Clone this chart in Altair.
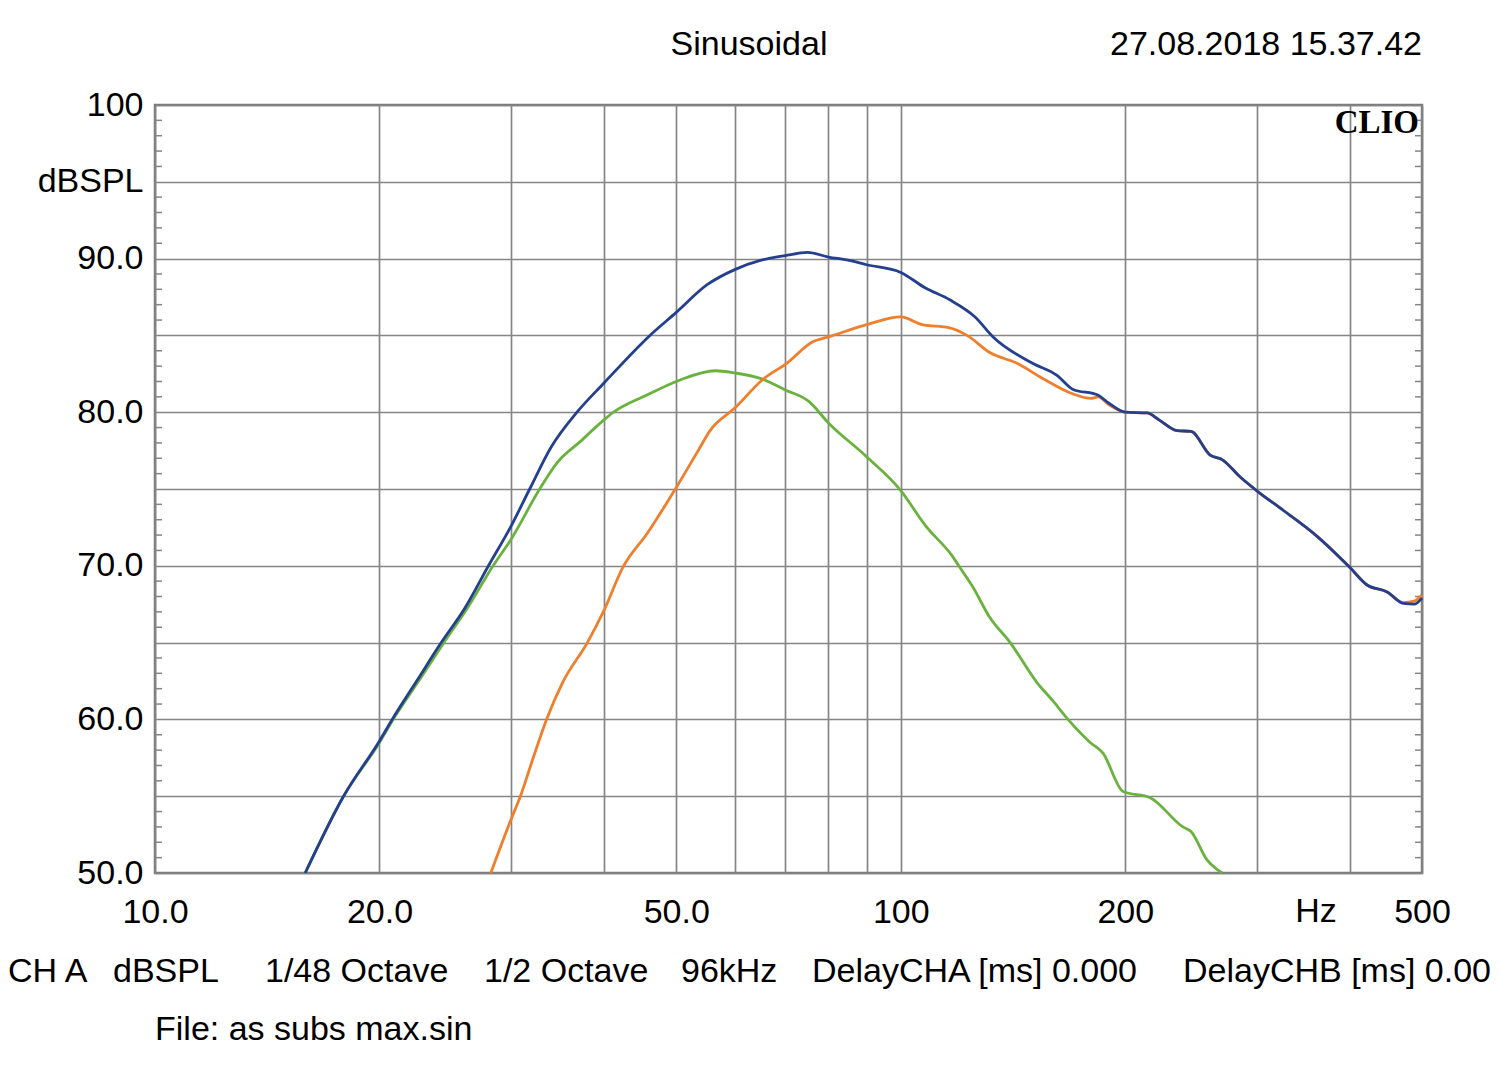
import altair as alt
import pandas as pd

# ---------------- data ----------------
blue_freq = [15.9, 17.9, 20.0, 20.8, 22.5, 24.2, 26.0, 28.0, 30.0, 31.8, 34.0, 36.8, 40.0,
             46.1, 50.0, 55.0, 60.0, 65.0, 70.0, 75.0, 80.0, 85.0, 90.0, 100.0, 107.8, 116.5,
             125.8, 133.0, 150.0, 162.0, 170.0, 184.0, 190.0, 200.0, 214.0, 222.0, 234.7,
             245.0, 260.0, 270.0, 285.0, 300.0, 326.0, 362.0, 400.0, 422.0, 449.0, 472.0,
             488.0, 500.0]
blue_spl = [50.0, 55.0, 58.6, 60.0, 62.6, 65.0, 67.2, 70.0, 72.55, 75.0, 77.75, 80.0, 81.9,
            85.0, 86.5, 88.3, 89.3, 89.9, 90.2, 90.4, 90.1, 89.9, 89.6, 89.1, 88.1, 87.3,
            86.2, 84.9, 83.2, 82.4, 81.5, 81.1, 80.6, 80.0, 79.95, 79.5, 78.8,
            78.75, 77.2, 76.9, 75.8, 74.9, 73.6, 71.9, 69.9, 68.75, 68.3, 67.55,
            67.5, 67.9]

orange_freq = [28.2, 30.0, 30.9, 32.2, 33.5, 35.2, 38.0, 40.0, 42.4, 45.7, 50.0, 53.5, 55.5,
               60.0, 65.2, 70.4, 76.3, 80.0, 90.0, 100.0, 106.8, 116.0, 122.7, 132.0, 143.0,
               155.0, 170.0, 180.0, 184.0, 190.0, 200.0, 214.0, 222.0, 234.7, 245.0, 260.0,
               270.0, 285.0, 300.0, 326.0, 362.0, 400.0, 422.0, 449.0, 472.0, 488.0, 500.0]
orange_spl = [50.0, 53.45, 55.0, 57.6, 60.0, 62.4, 65.0, 67.1, 69.9, 72.1, 75.1, 77.5, 78.8,
              80.3, 82.1, 83.2, 84.6, 84.9, 85.7, 86.2, 85.7, 85.5, 85.0, 83.85, 83.2,
              82.2, 81.2, 80.9, 81.0, 80.5, 80.0, 79.95, 79.5, 78.8, 78.75, 77.2,
              76.9, 75.8, 74.9, 73.6, 71.9, 69.9, 68.75, 68.3, 67.6, 67.7, 68.1]

green_freq = [15.9, 17.9, 20.0, 20.8, 22.5, 24.4, 26.2, 28.4, 30.0, 32.8, 34.6, 37.2, 40.0,
              41.2, 45.6, 50.6, 56.4, 60.0, 64.8, 70.0, 75.3, 80.0, 90.0, 100.0, 108.0, 117.4,
              120.0, 125.0, 131.4, 140.2, 152.3, 160.0, 167.6, 179.5, 186.7, 198.7, 216.0,
              239.0, 245.0, 257.5, 269.7]
green_spl = [50.0, 55.0, 58.5, 59.9, 62.4, 65.0, 67.2, 70.0, 71.7, 75.0, 76.7, 78.1, 79.5,
             80.0, 81.1, 82.1, 82.7, 82.55, 82.2, 81.45, 80.7, 79.3, 77.1, 74.9, 72.6, 70.6,
             69.9, 68.6, 66.7, 65.0, 62.4, 61.2, 60.0, 58.5, 57.8, 55.3, 54.9,
             53.0, 52.7, 50.85, 50.0]

grid_freqs = [10, 20, 30, 40, 50, 60, 70, 80, 90, 100, 200, 300, 400, 500]
x_label_values = [10, 20, 50, 100, 200, 500]
x_label_texts = ["10.0", "20.0", "50.0", "100", "200", "500"]
grid_db = [50, 55, 60, 65, 70, 75, 80, 85, 90, 95, 100]
y_label_values = [100, 95, 90, 80, 70, 60, 50]
y_label_texts = ["100", "dBSPL", "90.0", "80.0", "70.0", "60.0", "50.0"]
minor_db = [v for v in range(51, 100) if v % 5 != 0]

title_text = "Sinusoidal"
date_text = "27.08.2018 15.37.42"
brand_text = "CLIO"
unit_text = "Hz"
footer_items = ["CH A", "dBSPL", "1/48 Octave", "1/2 Octave", "96kHz",
                "DelayCHA [ms] 0.000", "DelayCHB [ms] 0.00"]
file_text = "File: as subs max.sin"

# ---------------- layout ----------------
W, H = 1267, 768
FONT = "Liberation Sans"
FS = 34
GRID = "#858585"


def make_expr(values, texts):
    parts = [f"datum.value == {v} ? '{t}'" for v, t in zip(values, texts)]
    return " : ".join(parts) + " : ''"


xscale = alt.Scale(type="log", domain=[10, 500], nice=False, zero=False)
yscale = alt.Scale(domain=[50, 100], nice=False, zero=False)

xaxis = alt.Axis(values=grid_freqs, labelExpr=make_expr(x_label_values, x_label_texts),
                 title=None, ticks=False, domain=False, grid=True, gridColor=GRID,
                 gridWidth=1.7, gridOpacity=1, labelFont=FONT, labelFontSize=FS,
                 labelColor="black", labelPadding=22, labelFlush=False,
                 labelOverlap=False, labelBound=False)
yaxis = alt.Axis(values=grid_db, labelExpr=make_expr(y_label_values, y_label_texts),
                 title=None, ticks=False, domain=False, grid=True, gridColor=GRID,
                 gridWidth=1.7, gridOpacity=1, labelFont=FONT, labelFontSize=FS,
                 labelColor="black", labelPadding=12, labelFlush=False,
                 labelOverlap=False, labelBound=False)


def curve(freq, spl, color):
    df = pd.DataFrame({"freq": freq, "spl": spl})
    return alt.Chart(df).mark_line(color=color, strokeWidth=2.8, interpolate="monotone").encode(
        x=alt.X("freq:Q", scale=xscale, axis=xaxis),
        y=alt.Y("spl:Q", scale=yscale, axis=yaxis))


minor_df = pd.DataFrame({"spl": minor_db})
minor_left = alt.Chart(minor_df).mark_rule(color=GRID, strokeWidth=1.5).encode(
    y=alt.Y("spl:Q", scale=yscale, axis=yaxis), x=alt.value(0), x2=alt.value(7))
minor_right = alt.Chart(minor_df).mark_rule(color=GRID, strokeWidth=1.5).encode(
    y=alt.Y("spl:Q", scale=yscale, axis=yaxis), x=alt.value(W - 7), x2=alt.value(W))


def label(text, x, y, align="left", font=FONT, size=FS, weight="normal"):
    return alt.Chart(alt.Data(values=[{}])).mark_text(
        align=align, baseline="middle", font=font, fontSize=size, fontWeight=weight,
        color="black").encode(x=alt.value(x), y=alt.value(y), text=alt.value(text))


footer_x = [-147, -42, 110, 329, 526, 657, 1028]
texts = [
    label(title_text, 594, -60, align="center"),
    label(date_text, 1267, -60, align="right"),
    label(brand_text, 1264, 18, align="right", font="Liberation Serif", size=33, weight="bold"),
    label(unit_text, 1161, 807, align="center"),
    label(file_text, 0, 925),
] + [label(t, x, 867) for t, x in zip(footer_items, footer_x)]

chart = alt.layer(
    curve(green_freq, green_spl, "#6ab23e"),
    minor_left,
    minor_right,
    curve(orange_freq, orange_spl, "#ef7f2b"),
    curve(blue_freq, blue_spl, "#233f8e"),
    *texts,
).properties(
    width=W, height=H,
    autosize=alt.AutoSizeParams(type="none"),
    padding={"left": 147, "top": 97, "right": 70, "bottom": 185},
    background="white",
).configure_view(stroke="#7a7a7a", strokeWidth=2.5)

chart.save("out.html", embed_options={"renderer": "svg", "actions": False})
